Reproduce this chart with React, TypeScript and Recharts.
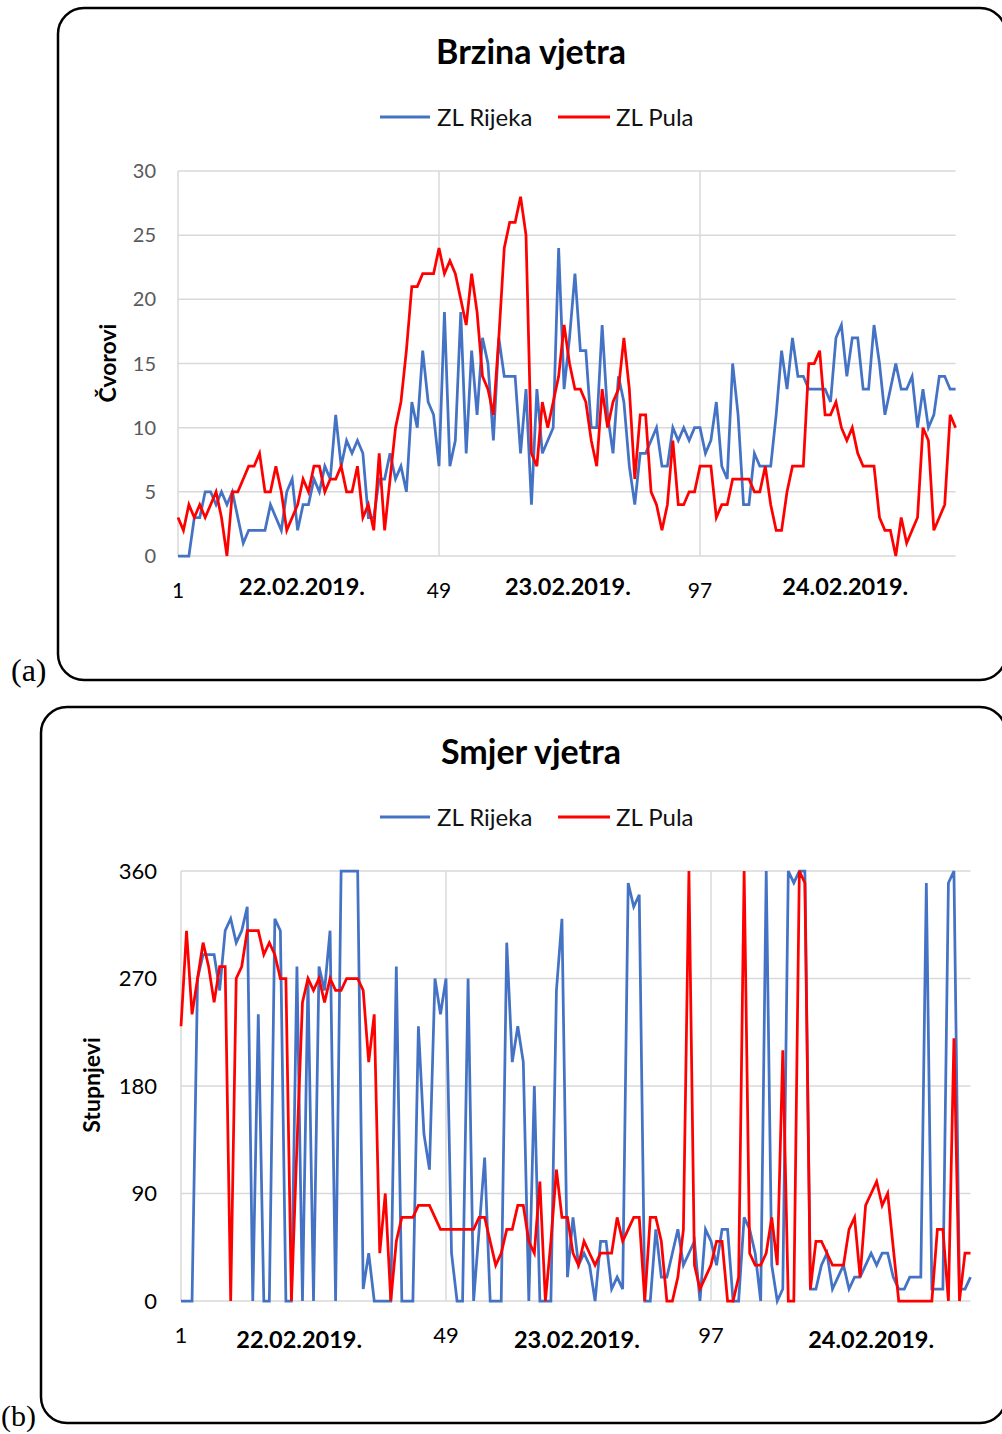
import React from 'react';
import { LineChart, Line, XAxis, YAxis, CartesianGrid, ReferenceLine } from 'recharts';

// ---- data (half-hourly, 144 points over 3 days) ----
const speedRijeka = [
  0, 0, 0, 3, 3, 5, 5, 4, 5, 4, 5, 3, 1, 2, 2, 2, 2, 4, 3, 2, 5, 6, 2, 4, 4, 6, 5, 7, 6, 11, 7, 9, 8, 9, 8, 3,
  3, 6, 6, 8, 6, 7, 5, 12, 10, 16, 12, 11, 7, 19, 7, 9, 19, 8, 16, 11, 17, 15, 9, 17, 14, 14, 14, 8, 13, 4, 13, 8, 9, 10, 24,
  13, 17, 22, 16, 16, 10, 10, 18, 11, 8, 14, 12, 7, 4, 8, 8, 9, 10, 7, 7, 10, 9, 10, 9, 10, 10, 8, 9, 12, 7, 6, 15, 11, 4, 4,
  8, 7, 7, 7, 11, 16, 13, 17, 14, 14, 13, 13, 13, 13, 12, 17, 18, 14, 17, 17, 13, 13, 18, 15, 11, 13, 15, 13, 13, 14, 10, 13, 10, 11, 14, 14, 13, 13,
];
const speedPula = [
  3, 2, 4, 3, 4, 3, 4, 5, 3, 0, 5, 5, 6, 7, 7, 8, 5, 5, 7, 5, 2, 3, 4, 6, 5, 7, 7, 5, 6, 6, 7, 5, 5, 7, 3, 4,
  2, 8, 2, 6, 10, 12, 16, 21, 21, 22, 22, 22, 24, 22, 23, 22, 20, 18, 22, 19, 14, 13, 11, 17, 24, 26, 26, 28, 25, 8, 7, 12, 10, 12, 14,
  18, 15, 13, 13, 12, 9, 7, 13, 10, 12, 13, 17, 13, 6, 11, 11, 5, 4, 2, 4, 9, 4, 4, 5, 5, 7, 7, 7, 3, 4, 4, 6, 6, 6, 6,
  5, 5, 7, 4, 2, 2, 5, 7, 7, 7, 15, 15, 16, 11, 11, 12, 10, 9, 10, 8, 7, 7, 7, 3, 2, 2, 0, 3, 1, 2, 3, 10, 9, 2, 3, 4, 11, 10,
];
const dirRijeka = [
  0, 0, 0, 270, 290, 290, 290, 260, 310, 320, 300, 310, 330, 0, 240, 0, 0, 320, 310, 0, 0, 280, 0, 270, 0, 280, 260, 310, 0, 360, 360, 360, 360, 10, 40,
  0, 0, 0, 0, 280, 0, 0, 0, 230, 140, 110, 270, 240, 270, 40, 0, 0, 270, 0, 60, 120, 0, 0, 0, 300, 200, 230, 200, 0, 180, 0, 0, 0, 260, 320, 20,
  70, 30, 40, 30, 0, 50, 50, 10, 20, 10, 350, 330, 340, 0, 0, 60, 20, 20, 40, 60, 30, 40, 50, 0, 60, 50, 30, 60, 60, 0, 0, 70, 60, 40, 0, 360,
  30, 0, 10, 360, 350, 360, 360, 10, 10, 30, 40, 10, 20, 30, 10, 20, 20, 30, 40, 30, 40, 40, 20, 10, 10, 20, 20, 20, 350, 10, 10, 10, 350, 360, 10, 10, 20,
];
const dirPula = [
  230, 310, 240, 270, 300, 280, 250, 280, 280, 0, 270, 280, 310, 310, 310, 290, 300, 290, 270, 270, 0, 130, 250, 270, 260, 270, 250, 270, 260, 260, 270, 270, 270, 260, 200,
  240, 40, 90, 0, 50, 70, 70, 70, 80, 80, 80, 70, 60, 60, 60, 60, 60, 60, 60, 70, 70, 50, 30, 40, 60, 60, 80, 80, 50, 40, 100, 0, 50, 110, 70, 70,
  40, 30, 50, 40, 30, 40, 40, 40, 70, 50, 60, 70, 70, 0, 70, 70, 50, 0, 0, 20, 60, 360, 30, 10, 20, 30, 50, 50, 0, 0, 20, 360, 40, 30, 30, 40,
  70, 30, 210, 0, 0, 360, 350, 10, 50, 50, 40, 30, 30, 30, 60, 70, 20, 80, 90, 100, 80, 90, 45, 0, 0, 0, 0, 0, 0, 0, 60, 60, 0, 220, 0, 40, 40,
];

const seriesNames = ['ZL Rijeka', 'ZL Pula'];
const seriesColors = ['#4472C4', '#FF0000'];
const dateLabels = ['22.02.2019.', '23.02.2019.', '24.02.2019.'];
const numberTicks = [1, 49, 97];
const speedTicks = [0, 5, 10, 15, 20, 25, 30];
const dirTicks = [0, 90, 180, 270, 360];
const speedDatePos = [23.8, 72.7, 123.7];
const dirDatePos = [22.4, 72.7, 126];

const speedData = speedRijeka.map((v, k) => ({ i: k + 1, rijeka: v, pula: speedPula[k] }));
const dirData = dirRijeka.map((v, k) => ({ i: k + 1, rijeka: v, pula: dirPula[k] }));

const FONT = 'Lato, "Open Sans", sans-serif';
const GRID = '#d9d9d9';
const LW = 2.75;

const makeTick = (datePos: number[], numDy: number, dateDy: number, numSize: number) => (props: any) => {
  const { x, y, payload } = props;
  const di = datePos.indexOf(payload.value);
  if (di >= 0) {
    return (
      <text x={x} y={y + dateDy} dy="0.355em" textAnchor="middle" fontFamily={FONT} fontWeight={700} fontSize={23.5} fill="#000">
        {dateLabels[di]}
      </text>
    );
  }
  return (
    <text x={x} y={y + numDy} dy="0.355em" textAnchor="middle" fontFamily={FONT} fontSize={numSize} fill="#000">
      {payload.value}
    </text>
  );
};

const Legend2 = ({ y }: { y: number }) => (
  <g>
    <line x1={380} x2={430} y1={y} y2={y} stroke={seriesColors[0]} strokeWidth={3} />
    <text x={437} y={y} dy="0.355em" fontFamily={FONT} fontSize={24} fill="#111">{seriesNames[0]}</text>
    <line x1={558} x2={610} y1={y} y2={y} stroke={seriesColors[1]} strokeWidth={3} />
    <text x={616} y={y} dy="0.355em" fontFamily={FONT} fontSize={24} fill="#111">{seriesNames[1]}</text>
  </g>
);

export default function App() {
  return (
    <div style={{ position: 'absolute', left: 0, top: 0, width: 1002, height: 1434, background: '#fff', overflow: 'hidden' }}>
      <svg width={1002} height={1434} style={{ position: 'absolute', left: 0, top: 0 }}>
        <rect x={58} y={8} width={948} height={672} rx={26} ry={26} fill="none" stroke="#000" strokeWidth={2.5} />
        <rect x={41} y={707} width={965} height={716} rx={26} ry={26} fill="none" stroke="#000" strokeWidth={2.5} />
        <text x={531} y={52} dy="0.355em" textAnchor="middle" fontFamily={FONT} fontWeight={700} fontSize={34} fill="#000">Brzina vjetra</text>
        <text x={531} y={752} dy="0.355em" textAnchor="middle" fontFamily={FONT} fontWeight={700} fontSize={34} fill="#000">Smjer vjetra</text>
        <Legend2 y={117} />
        <Legend2 y={817} />
        <text transform="translate(108,363) rotate(-90)" dy="0.355em" textAnchor="middle" fontFamily={FONT} fontWeight={700} fontSize={23} fill="#000">Čvorovi</text>
        <text transform="translate(92,1085) rotate(-90)" dy="0.355em" textAnchor="middle" fontFamily={FONT} fontWeight={700} fontSize={23} fill="#000">Stupnjevi</text>
        <text x={11} y={670} dy="0.355em" fontFamily='"Liberation Serif", serif' fontSize={32} fill="#000">(a)</text>
        <text x={1} y={1417} dy="0.3em" fontFamily='"Liberation Serif", serif' fontSize={30} fill="#000">(b)</text>
      </svg>

      <div style={{ position: 'absolute', left: 0, top: 0 }}>
        <LineChart width={1002} height={700} data={speedData} margin={{ top: 171, right: 46.4, bottom: 104, left: 118 }}>
          <CartesianGrid vertical={false} stroke={GRID} strokeWidth={1.5} />
          <ReferenceLine x={1} stroke={GRID} strokeWidth={1.5} />
          <ReferenceLine x={49} stroke={GRID} strokeWidth={1.5} />
          <ReferenceLine x={97} stroke={GRID} strokeWidth={1.5} />
          <XAxis dataKey="i" type="number" domain={[1, 144]} ticks={[...numberTicks, ...speedDatePos]} interval={0}
            axisLine={false} tickLine={false} tickSize={0} tickMargin={0} height={40}
            tick={makeTick(speedDatePos, 35, 31, 21)} />
          <YAxis type="number" domain={[0, 30]} ticks={speedTicks} interval={0} width={60} axisLine={false} tickLine={false}
            tickSize={0} tickMargin={22} tick={{ fontFamily: FONT, fontSize: 20, fill: '#595959' }} />
          <Line type="linear" dataKey="rijeka" name={seriesNames[0]} stroke={seriesColors[0]} strokeWidth={LW} dot={false} isAnimationActive={false} />
          <Line type="linear" dataKey="pula" name={seriesNames[1]} stroke={seriesColors[1]} strokeWidth={LW} dot={false} isAnimationActive={false} />
        </LineChart>
      </div>

      <div style={{ position: 'absolute', left: 0, top: 700 }}>
        <LineChart width={1002} height={734} data={dirData} margin={{ top: 171, right: 31.5, bottom: 93, left: 121 }}>
          <CartesianGrid vertical={false} stroke={GRID} strokeWidth={1.5} />
          <ReferenceLine x={1} stroke={GRID} strokeWidth={1.5} />
          <ReferenceLine x={49} stroke={GRID} strokeWidth={1.5} />
          <ReferenceLine x={97} stroke={GRID} strokeWidth={1.5} />
          <XAxis dataKey="i" type="number" domain={[1, 144]} ticks={[...numberTicks, ...dirDatePos]} interval={0}
            axisLine={false} tickLine={false} tickSize={0} tickMargin={0} height={40}
            tick={makeTick(dirDatePos, 34, 39, 22)} />
          <YAxis type="number" domain={[0, 360]} ticks={dirTicks} interval={0} width={60} axisLine={false} tickLine={false}
            tickSize={0} tickMargin={24} tick={{ fontFamily: FONT, fontSize: 22, fill: '#000' }} />
          <Line type="linear" dataKey="rijeka" name={seriesNames[0]} stroke={seriesColors[0]} strokeWidth={LW} dot={false} isAnimationActive={false} />
          <Line type="linear" dataKey="pula" name={seriesNames[1]} stroke={seriesColors[1]} strokeWidth={LW} dot={false} isAnimationActive={false} />
        </LineChart>
      </div>
    </div>
  );
}
